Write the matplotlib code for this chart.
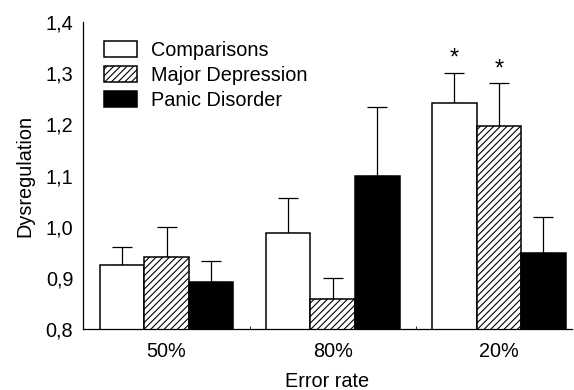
import numpy as np
import matplotlib
matplotlib.use('Agg')
from matplotlib import pyplot as plt

groups = ['50%', '80%', '20%']
series = ['Comparisons', 'Major Depression', 'Panic Disorder']

comparisons = [0.925, 0.988, 1.242]
comparisons_se = [0.035, 0.069, 0.058]
major_depression = [0.940, 0.859, 1.197]
major_depression_se = [0.060, 0.041, 0.083]
panic_disorder = [0.892, 1.100, 0.949]
panic_disorder_se = [0.041, 0.134, 0.069]

# which bars carry a significance star
stars = [[False, False, True], [False, False, True], [False, False, False]]

yticks = [0.8, 0.9, 1.0, 1.1, 1.2, 1.3, 1.4]
ytick_labels = ['0,8', '0,9', '1,0', '1,1', '1,2', '1,3', '1,4']

plt.rcParams['font.family'] = ['Liberation Sans', 'DejaVu Sans']
plt.rcParams['hatch.linewidth'] = 0.8

fs = 14.3

fig = plt.figure(figsize=(5.74, 3.9), dpi=100)
ax = fig.add_axes([0.1446, 0.1564, 0.852, 0.787])

x = np.arange(len(groups))
width = 0.268
styles = [dict(facecolor='white', hatch=None),
          dict(facecolor='white', hatch='/////'),
          dict(facecolor='black', hatch=None)]
values = [comparisons, major_depression, panic_disorder]
errors = [comparisons_se, major_depression_se, panic_disorder_se]

for i, name in enumerate(series):
    pos = x + (i - 1) * width
    ax.bar(pos, values[i], width, bottom=0, label=name,
           edgecolor='black', linewidth=1.1, zorder=2, **styles[i])
    ax.errorbar(pos, values[i], yerr=[np.zeros(len(groups)), errors[i]],
                fmt='none', ecolor='black', elinewidth=0.9, capsize=7.5,
                capthick=0.9, zorder=1)
    for j in range(len(groups)):
        if stars[i][j]:
            ax.text(pos[j], values[i][j] + errors[i][j] + 0.028, '*',
                    ha='center', va='center', fontsize=17)

ax.set_ylim(0.8, 1.4)
ax.set_xlim(-0.503, 2.44)
ax.set_yticks(yticks)
ax.set_yticklabels(ytick_labels)
ax.set_xticks(x)
ax.set_xticklabels(groups)
ax.set_xticks([0.5, 1.5], minor=True)
ax.tick_params(axis='y', length=0, pad=7, labelsize=fs)
ax.tick_params(axis='x', which='major', length=0, pad=9, labelsize=fs)
ax.tick_params(axis='x', which='minor', length=2, direction='in')

for s in ['top', 'right']:
    ax.spines[s].set_visible(False)
for s in ['left', 'bottom']:
    ax.spines[s].set_linewidth(0.9)

ax.set_ylabel('Dysregulation', fontsize=fs, va='center')
ax.yaxis.set_label_coords(-0.119, 0.5)
ax.set_xlabel('Error rate', fontsize=fs, va='center')
ax.xaxis.set_label_coords(0.5, -0.171)

ax.legend(loc='upper left', bbox_to_anchor=(104 / 574, 1 - 41 / 390),
          bbox_transform=fig.transFigure, frameon=False, fontsize=fs,
          borderpad=0, borderaxespad=0, handlelength=1.66, handleheight=0.85,
          handletextpad=0.72, labelspacing=0.3)

fig.savefig('out.png', dpi=100)
